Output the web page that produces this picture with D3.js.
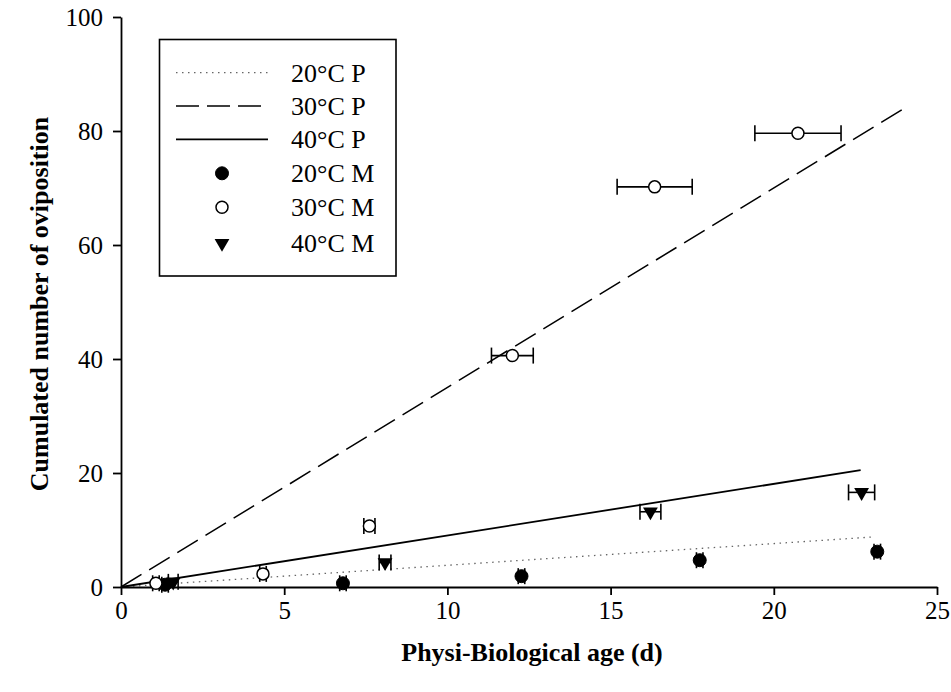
<!DOCTYPE html>
<html>
<head>
<meta charset="utf-8">
<script src="https://cdn.jsdelivr.net/npm/d3@7"></script>
<style>
  html, body { margin: 0; padding: 0; background: #fff; }
  svg { display: block; }
  text { font-family: "Liberation Serif", "Times New Roman", serif; fill: #000; }
</style>
</head>
<body>
<svg id="chart" width="951" height="692"></svg>
<script>
// ---- data ----
const xTicks = [0, 5, 10, 15, 20, 25];
const yTicks = [0, 20, 40, 60, 80, 100];

// predicted lines (P)
const p20X = [0, 23.1],  p20Y = [0, 8.8];
const p30X = [0, 24.0],  p30Y = [0, 84.0];
const p40X = [0, 22.66], p40Y = [0, 20.5];

// measured points (M) with x error
const m20X = [1.35, 6.8, 12.27, 17.73, 23.17];
const m20Y = [0.4, 0.65, 1.9, 4.7, 6.2];
const m20E = [0.1, 0.1, 0.1, 0.1, 0.1];

const m30X = [1.07, 4.35, 7.61, 11.99, 16.35, 20.74];
const m30Y = [0.65, 2.3, 10.7, 40.6, 70.2, 79.6];
const m30E = [0.1, 0.1, 0.17, 0.64, 1.15, 1.32];

const m40X = [1.6, 8.09, 16.22, 22.69];
const m40Y = [0.9, 4.3, 13.2, 16.6];
const m40E = [0.15, 0.18, 0.32, 0.4];

const legendLabels = ["20°C P", "30°C P", "40°C P", "20°C M", "30°C M", "40°C M"];

// ---- chart ----
const svg = d3.select("#chart");
const x = d3.scaleLinear().domain([0, 25]).range([121, 937]);
const y = d3.scaleLinear().domain([0, 100]).range([587, 17]);

const lineStyles = {
  p20: { stroke: "#666", width: 1.3, dash: "1.5,4.5" },
  p30: { stroke: "#000", width: 1.5, dash: "24,9" },
  p40: { stroke: "#000", width: 1.8, dash: null }
};

const line = d3.line().x(d => x(d[0])).y(d => y(d[1]));
function drawLine(xs, ys, st) {
  svg.append("path")
    .datum(xs.map((v, i) => [v, ys[i]]))
    .attr("d", line)
    .attr("fill", "none")
    .attr("stroke", st.stroke)
    .attr("stroke-width", st.width)
    .attr("stroke-dasharray", st.dash);
}
drawLine(p20X, p20Y, lineStyles.p20);
drawLine(p30X, p30Y, lineStyles.p30);
drawLine(p40X, p40Y, lineStyles.p40);

// axes
const fontTick = 25;
const xAxis = svg.append("g").attr("transform", `translate(0,${y(0)})`)
  .call(d3.axisBottom(x).tickValues(xTicks).tickFormat(d3.format("d")).tickSize(8).tickSizeOuter(0).tickPadding(6));
const yAxis = svg.append("g").attr("transform", `translate(${x(0)},0)`)
  .call(d3.axisLeft(y).tickValues(yTicks).tickFormat(d3.format("d")).tickSize(8).tickSizeOuter(0).tickPadding(10));
[xAxis, yAxis].forEach(a => {
  a.select(".domain").attr("stroke", "#000").attr("stroke-width", 1.8);
  a.selectAll(".tick line").attr("stroke", "#000").attr("stroke-width", 1.8);
  a.selectAll(".tick text").attr("font-size", fontTick)
    .attr("font-family", "Liberation Serif, Times New Roman, serif").attr("fill", "#000");
});

// markers
const markerFns = {
  m20: (g) => g.append("circle").attr("r", 6.5).attr("fill", "#000").attr("stroke", "#000"),
  m30: (g) => g.append("circle").attr("r", 6).attr("fill", "#fff").attr("stroke", "#000").attr("stroke-width", 1.5),
  m40: (g) => g.append("path").attr("d", d3.symbol().type(d3.symbolTriangle).size(95)())
              .attr("transform", "rotate(180)").attr("fill", "#000")
};

function drawSeries(xs, ys, es, key) {
  xs.forEach((v, i) => {
    const cx = x(v), cy = y(ys[i]);
    const x1 = x(v - es[i]), x2 = x(v + es[i]);
    const eb = svg.append("g").attr("stroke", "#000").attr("stroke-width", 1.6);
    eb.append("line").attr("x1", x1).attr("x2", x2).attr("y1", cy).attr("y2", cy);
    eb.append("line").attr("x1", x1).attr("x2", x1).attr("y1", cy - 8).attr("y2", cy + 8);
    eb.append("line").attr("x1", x2).attr("x2", x2).attr("y1", cy - 8).attr("y2", cy + 8);
    const g = svg.append("g").attr("transform", `translate(${cx},${cy})`);
    markerFns[key](g);
  });
}
drawSeries(m20X, m20Y, m20E, "m20");
drawSeries(m40X, m40Y, m40E, "m40");
drawSeries(m30X, m30Y, m30E, "m30");

// axis titles
svg.append("text").attr("x", 532).attr("y", 661).attr("text-anchor", "middle")
  .attr("font-size", 26).attr("font-weight", "bold").text("Physi-Biological age (d)");
svg.append("text").attr("transform", "translate(48,304) rotate(-90)").attr("text-anchor", "middle")
  .attr("font-size", 26).attr("font-weight", "bold").text("Cumulated number of oviposition");

// legend
const lg = svg.append("g");
lg.append("rect").attr("x", 159.5).attr("y", 39.5).attr("width", 236.5).attr("height", 236.5)
  .attr("fill", "#fff").attr("stroke", "#000").attr("stroke-width", 1.6);
const rowY = [72.7, 106, 139.3, 173.3, 207.3, 243.3];
const legKeys = ["p20", "p30", "p40", "m20", "m30", "m40"];
legKeys.forEach((k, i) => {
  const yy = rowY[i];
  if (k.startsWith("p")) {
    const st = lineStyles[k];
    lg.append("line").attr("x1", 176).attr("x2", 268).attr("y1", yy).attr("y2", yy)
      .attr("stroke", st.stroke).attr("stroke-width", st.width)
      .attr("stroke-dasharray", k === "p30" ? "23,8" : st.dash);
  } else {
    const g = lg.append("g").attr("transform", `translate(222,${yy})`);
    markerFns[k](g);
  }
  lg.append("text").attr("x", 291).attr("y", yy).attr("dy", "0.35em")
    .attr("font-size", 26).text(legendLabels[i]);
});
</script>
</body>
</html>
